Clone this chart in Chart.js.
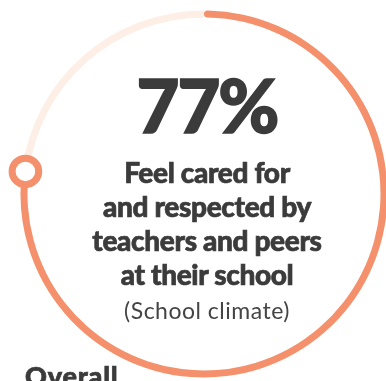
<!DOCTYPE html>
<html>
<head>
<meta charset="utf-8">
<script src="https://cdn.jsdelivr.net/npm/chart.js@4/dist/chart.umd.min.js"></script>
<style>
  html, body { margin: 0; padding: 0; background: #fff; }
  body { width: 386px; height: 381px; overflow: hidden; position: relative; font-family: Lato, "Open Sans", sans-serif; color: #3b3b3b; }
  #ring { position: absolute; left: 4px; top: -6px; width: 400px; height: 400px; }
  .t { position: absolute; left: 0; width: 414px; text-align: center; white-space: nowrap; }
  #big { top: 60px; font-size: 74px; line-height: 89px; font-weight: 900; letter-spacing: -2px; -webkit-text-stroke: 1.6px #3b3b3b; }
  .line { font-size: 28px; line-height: 34px; font-weight: 900; letter-spacing: -0.35px; -webkit-text-stroke: 0.7px #3b3b3b; }
  #sub { top: 296px; font-size: 23px; line-height: 28px; font-weight: 400; letter-spacing: 0.5px; color: #444; }
  #overall { position: absolute; left: 25px; top: 360px; font-size: 27px; line-height: 32px; font-weight: 900; letter-spacing: 0.8px; -webkit-text-stroke: 0.7px #3b3b3b; }
</style>
</head>
<body>
<div id="ring"><canvas id="c" width="400" height="400"></canvas></div>
<div class="t" id="big"></div>
<div class="t line" style="top:155px">Feel cared for</div>
<div class="t line" style="top:189px">and respected by</div>
<div class="t line" style="top:223px">teachers and peers</div>
<div class="t line" style="top:257px">at their school</div>
<div class="t" id="sub">(School climate)</div>
<div id="overall">Overall</div>
<script>
// Share of students answering yes, and the remainder of the ring
const categories = ['Feel cared for and respected', 'Other'];
const shareValues = [77, 23];
const ringColors = ['#F4906B', '#FDEEE6'];

document.getElementById('big').textContent = shareValues[0] + '%';

// White dot with an orange rim at the end of the filled arc
const endMarker = {
  id: 'endMarker',
  afterDatasetsDraw(chart) {
    const arc = chart.getDatasetMeta(0).data[0];
    if (!arc) return;
    const mid = (arc.innerRadius + arc.outerRadius) / 2;
    const x = arc.x + mid * Math.cos(arc.endAngle);
    const y = arc.y + mid * Math.sin(arc.endAngle);
    const ctx = chart.ctx;
    ctx.save();
    ctx.beginPath();
    ctx.arc(x, y, 13.3, 0, Math.PI * 2);
    ctx.fillStyle = '#ffffff';
    ctx.fill();
    ctx.lineWidth = 7;
    ctx.strokeStyle = ringColors[0];
    ctx.stroke();
    ctx.restore();
  }
};

new Chart(document.getElementById('c'), {
  type: 'doughnut',
  data: {
    labels: categories,
    datasets: [{
      data: shareValues,
      backgroundColor: ringColors,
      borderWidth: 0,
      borderRadius: [{ outerStart: 4, innerStart: 4, outerEnd: 0, innerEnd: 0 }, 0]
    }]
  },
  options: {
    responsive: false,
    animation: false,
    rotation: 0,
    cutout: 176.5,
    layout: { padding: 16.5 },
    plugins: { legend: { display: false }, tooltip: { enabled: false } }
  },
  plugins: [endMarker]
});
</script>
</body>
</html>
